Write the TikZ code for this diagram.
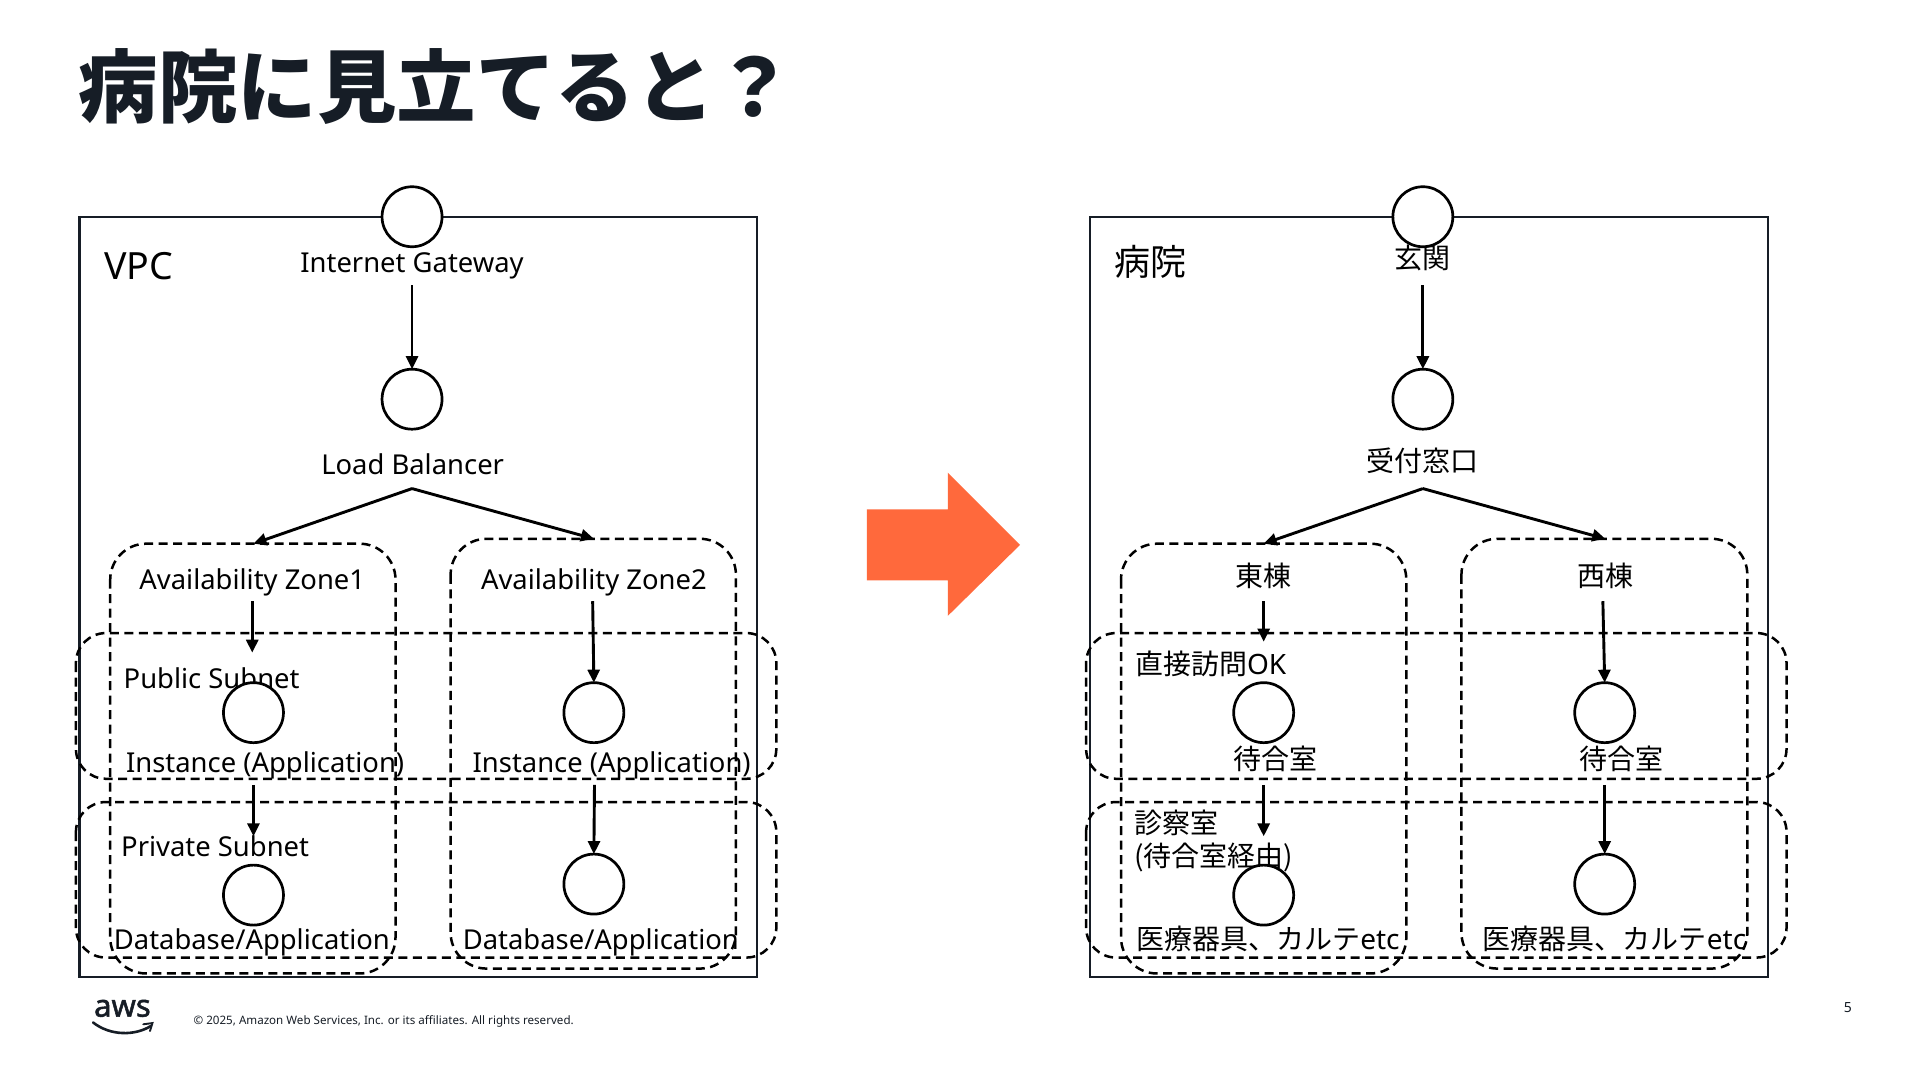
\documentclass[tikz,border=0pt]{standalone}
\usepackage{fontspec}
\setmainfont{Noto Sans}
\newfontfamily\cjk{Noto Sans CJK JP}
\newfontfamily\latn{Noto Sans}
\newfontfamily\awsf[FakeBold=1.6]{Noto Sans}
\usetikzlibrary{arrows.meta}
\definecolor{ink}{HTML}{161D26}
\definecolor{orangeb}{HTML}{FF693C}
\tikzset{
  x=1.2245pt,y=-1.2245pt,
  frame/.style={draw=ink,line width=2.4pt,fill=none},
  zone/.style={draw=black,line width=2.5pt,dash pattern=on 9pt off 5.5pt,rounded corners=#1},
  port/.style={circle,draw=black,fill=white,line width=2.7pt,minimum size=60pt,inner sep=0pt,outer sep=0pt},
  lab/.style={inner sep=0pt,outer sep=0pt,text=black,font=\latn\fontsize{27.4}{31}\selectfont},
  jlab/.style={inner sep=0pt,outer sep=0pt,text=black,font=\cjk\fontsize{28}{32}\selectfont},
  big/.style={inner sep=0pt,outer sep=0pt,text=black,font=\latn\fontsize{37.5}{42}\selectfont},
  bigj/.style={inner sep=0pt,outer sep=0pt,text=black,font=\cjk\fontsize{36}{40}\selectfont},
  arr/.style={draw=black,line width=2.9pt,-{Triangle[length=13pt,width=12pt]}},
}
\begin{document}
\begin{tikzpicture}
\useasboundingbox (0,0) rectangle (1568,882);
\fill[white] (0,0) rectangle (1568,882);
% title
\node[inner sep=0pt,anchor=west,text=ink,font=\cjk\bfseries\fontsize{79.5}{84}\selectfont] (title) at (64,71) {病院に見立てると？};
% frames
\draw[frame] (65,177) rectangle (618,798);
\draw[frame] (890,177) rectangle (1444,798);
% arrow
\fill[orangeb] (708,416) -- (774,416) -- (774,386) -- (833,445) -- (774,503) -- (774,474) -- (708,474) -- cycle;
% left zones
\draw[zone=36pt] (90,444) rectangle (323,795);
\draw[zone=36pt] (368,440) rectangle (601,791);
\draw[zone=30pt] (62,517) rectangle (634,636);
\draw[zone=30pt] (62,655) rectangle (634,782);
% right zones
\draw[zone=36pt] (915.5,444) rectangle (1148.5,795);
\draw[zone=36pt] (1193.5,440) rectangle (1427,791);
\draw[zone=30pt] (887,517) rectangle (1459,636);
\draw[zone=30pt] (887,655) rectangle (1459,782);
% left labels
\node[big,anchor=west] (vpc) at (85,217) {VPC};
\node[lab] (igwl) at (336.5,217) {Internet Gateway};
\node[lab] (lbl) at (337,379) {Load Balancer};
\node[lab] (az1l) at (206,476) {Availability Zone1};
\node[lab] (az2l) at (485,476) {Availability Zone2};
\node[lab,anchor=west] (publ) at (101,554) {Public Subnet};
\node[lab,anchor=west] (inst1) at (103,625) {Instance (Application)};
\node[lab,anchor=west] (inst2) at (386,625) {Instance (Application)};
\node[lab,anchor=west] (privl) at (99,691) {Private Subnet};
\node[lab,anchor=west] (db1) at (93,770) {Database/Application};
\node[lab,anchor=west] (db2) at (378,770) {Database/Application};
% right labels
\node[bigj,anchor=west] (hosp) at (910,214) {病院};
\node[jlab] (genk) at (1162,211) {玄関};
\node[jlab] (uke) at (1162,376) {受付窓口};
\node[jlab] (east) at (1032,470) {東棟};
\node[jlab] (west) at (1311,470) {西棟};
\node[jlab,anchor=west] (direct) at (927,542) {直接訪問\latn OK};
\node[jlab,anchor=west] (wait1) at (1007,620) {待合室};
\node[jlab,anchor=west] (wait2) at (1290,620) {待合室};
\node[jlab,anchor=west] (shin1) at (926.5,672) {診察室};
\node[jlab,anchor=west] (shin2) at (926.5,700.5) {(待合室経由)};
\node[jlab,anchor=west] (med1) at (928,767) {医療器具、カルテ\latn etc};
\node[jlab,anchor=west] (med2) at (1211,767) {医療器具、カルテ\latn etc};
% circles, over the text
\node[port] (igw) at (336.5,177) {};
\node[port] (lb) at (336.5,326) {};
\node[port] (i1) at (207,582) {};
\node[port] (i2) at (485,582) {};
\node[port] (d1) at (207,731) {};
\node[port] (d2) at (485,722) {};
\node[port] (rigw) at (1162,177) {};
\node[port] (rlb) at (1162,326) {};
\node[port] (ri1) at (1032,582) {};
\node[port] (ri2) at (1310.5,582) {};
\node[port] (rd1) at (1032,731) {};
\node[port] (rd2) at (1310.5,722) {};
% connector ends
\coordinate (a1) at (336.5,233);
\coordinate (a2) at (336.5,399);
\coordinate (a2l) at (207,444);
\coordinate (a2r) at (485,440);
\coordinate (a3) at (206,491);
\coordinate (a3e) at (206,533);
\coordinate (a4) at (484,491);
\coordinate (a5) at (207,641);
\coordinate (a5e) at (207,683);
\coordinate (a6) at (485.5,641);
\coordinate (b1) at (1162,233);
\coordinate (b2) at (1162,399);
\coordinate (b2l) at (1032,444);
\coordinate (b2r) at (1311,440);
\coordinate (b3) at (1032,491);
\coordinate (b3e) at (1032,524);
\coordinate (b4) at (1309,491);
\coordinate (b5) at (1032,641);
\coordinate (b5e) at (1032,683);
\coordinate (b6) at (1310.5,641);
% connectors
\draw[arr] (a1) -- (lb.north);
\draw[arr] (a2) -- (a2l);
\draw[arr] (a2) -- (a2r);
\draw[arr] (a3) -- (a3e);
\draw[arr] (a4) -- (i2.north);
\draw[arr] (a5) -- (a5e);
\draw[arr] (a6) -- (d2.north);
\draw[arr] (b1) -- (rlb.north);
\draw[arr] (b2) -- (b2l);
\draw[arr] (b2) -- (b2r);
\draw[arr] (b3) -- (b3e);
\draw[arr] (b4) -- (ri2.north);
\draw[arr] (b5) -- (b5e);
\draw[arr] (b6) -- (rd2.north);
% footer
\node[inner sep=0pt,text=ink,font=\awsf\fontsize{31}{33}\selectfont] (aws) at (100,823.5) {aws};
\draw[ink,line width=2.6pt,line cap=round] (76,835) .. controls (90,846) and (110,846) .. (123,838);
\draw[ink,line width=1.9pt,line cap=round] (117,836.5) -- (124.5,835.5) -- (122.5,842);
\node[inner sep=0pt,anchor=west,text=ink,font=\latn\fontsize{11.6}{13}\selectfont] (copy) at (158,834.5) {© 2025, Amazon Web Services, Inc. or its affiliates. All rights reserved.};
\node[inner sep=0pt,text=ink,font=\latn\fontsize{14}{16}\selectfont] (pg) at (1509,823) {5};
\end{tikzpicture}
\end{document}
